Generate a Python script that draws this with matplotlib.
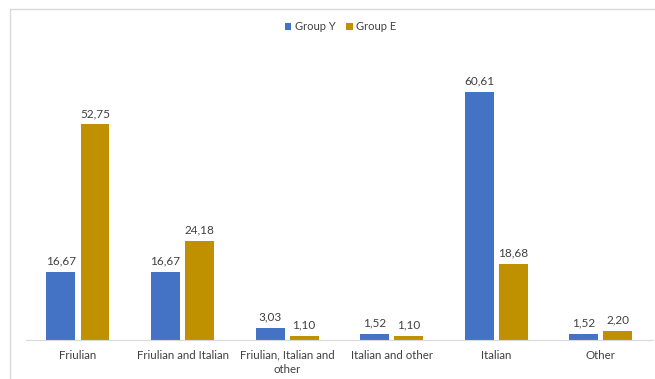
import matplotlib
matplotlib.use("Agg")
import matplotlib.pyplot as plt
import numpy as np
from matplotlib.patches import Rectangle

categories = ["Friulian", "Friulian and Italian", "Friulian, Italian and\nother",
              "Italian and other", "Italian", "Other"]
group_y = [16.67, 16.67, 3.03, 1.52, 60.61, 1.52]
group_e = [52.75, 24.18, 1.10, 1.10, 18.68, 2.20]
series_names = ["Group Y", "Group E"]
colors = ["#4472C4", "#BF9000"]

plt.rcParams['font.family'] = ['Lato', 'DejaVu Sans']

W, H = 655, 379
fig = plt.figure(figsize=(W/100, H/100), dpi=100)
left, right, top, bottom = 25.7, 653, 54, 340
ax = fig.add_axes([left/W, 1-bottom/H, (right-left)/W, (bottom-top)/H])

x = np.arange(len(categories))
bw = 0.277
off = 0.163
b1 = ax.bar(x - off, group_y, bw, color=colors[0], label=series_names[0])
b2 = ax.bar(x + off, group_e, bw, color=colors[1], label=series_names[1])

def fmt(v):
    return f"{v:.2f}".replace(".", ",")

for bars, vals in ((b1, group_y), (b2, group_e)):
    for r, v in zip(bars, vals):
        ax.annotate(fmt(v), (r.get_x() + r.get_width()/2, v), xytext=(0, 4),
                    textcoords="offset points", ha="center", va="bottom",
                    fontsize=8.5, color="#404040")

ax.set_xlim(-0.5, len(categories) - 0.5)
ax.set_ylim(0, 70)
ax.set_yticks([])
ax.set_xticks(x)
ax.set_xticklabels(categories, fontsize=8.3, color="#404040", linespacing=1.4)
ax.tick_params(axis='x', length=0, pad=7)
for s in ["top", "right", "left"]:
    ax.spines[s].set_visible(False)
ax.spines["bottom"].set_color("#D9D9D9")
ax.spines["bottom"].set_linewidth(0.8)

leg = fig.legend(loc="center", bbox_to_anchor=(0.52, 1 - 27/H), ncol=2,
                 frameon=False, fontsize=8, handlelength=0.6, handleheight=0.6,
                 handletextpad=0.3, columnspacing=1.0)
for t in leg.get_texts():
    t.set_color("#404040")

fig.patches.append(Rectangle((10/W, -0.5), 1, 1.5 - 9/H, transform=fig.transFigure,
                             fill=False, edgecolor="#D9D9D9", linewidth=1.0))

fig.savefig("out.png", dpi=100)
